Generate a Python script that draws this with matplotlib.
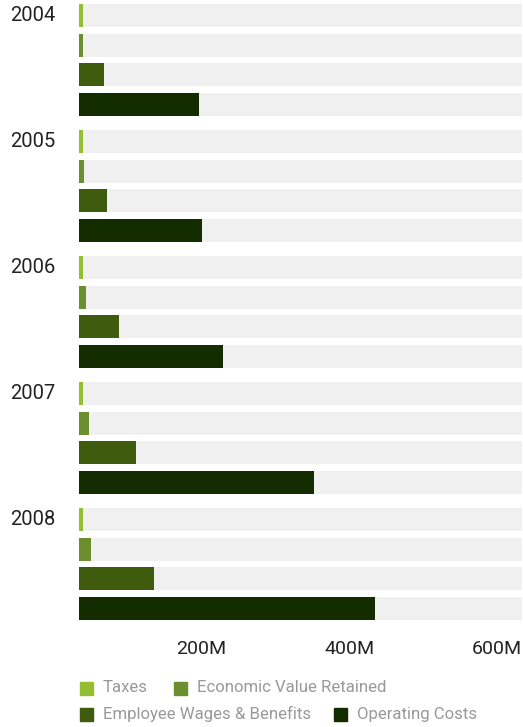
import matplotlib
matplotlib.use("Agg")
import matplotlib.pyplot as plt
import matplotlib.transforms as mtransforms
from matplotlib.patches import Rectangle

years = ["2004", "2005", "2006", "2007", "2008"]
series = ["Taxes", "Economic Value Retained", "Employee Wages & Benefits", "Operating Costs"]
# values in millions
taxes = [6, 5, 5, 5, 5]
econ_retained = [6, 7, 9, 13, 16]
wages = [34, 38, 54, 77, 101]
operating = [163, 167, 195, 318, 401]
xticks = [200, 400, 600]
xtick_labels = ["200M", "400M", "600M"]

colors = ["#94bd32", "#6b8e2e", "#3f5b0d", "#132d00"]
track = "#f0f0f0"
values = [taxes, econ_retained, wages, operating]

plt.rcParams["font.family"] = ["Roboto", "DejaVu Sans"]

W, H = 523, 727
fig = plt.figure(figsize=(W / 100, H / 100), dpi=100)
ax_top, ax_bot = 0, 627
ax = fig.add_axes([79 / W, 1 - ax_bot / H, 443 / W, (ax_bot - ax_top) / H])
ax.set_xlim(0, 600)
ax.set_ylim(ax_bot, ax_top)

group_pitch = 126
bar_pitch = 29.5
bar_h = 23

for i, yr in enumerate(years):
    for j in range(len(series)):
        yc = 4 + bar_h / 2 + group_pitch * i + bar_pitch * j
        ax.barh(yc, 600, height=bar_h, color=track, zorder=1)
        ax.barh(yc, values[j][i], height=bar_h, color=colors[j], zorder=2)
    trans = mtransforms.blended_transform_factory(fig.transFigure, ax.transData)
    ax.text(10 / W, 4 + bar_h / 2 + group_pitch * i, yr, transform=trans,
            ha="left", va="center", fontsize=14.5, color="#222222")

ax.set_xticks(xticks)
ax.set_xticklabels(xtick_labels, ha="right", fontsize=14, color="#222222")
ax.tick_params(axis="x", length=0, pad=9)
ax.set_yticks([])
for s in ax.spines.values():
    s.set_visible(False)

# legend (flow layout)
leg_items = [(80, 688, 0), (174, 688, 1), (80, 714, 2), (334, 714, 3)]
for x, y, k in leg_items:
    fig.add_artist(Rectangle((x / W, 1 - (y + 6.5) / H), 13 / W, 13 / H,
                             transform=fig.transFigure, color=colors[k]))
    fig.text((x + 23) / W, 1 - y / H, series[k], ha="left", va="center",
             fontsize=12.1, color="#999999")

fig.savefig("out.png", dpi=100)
